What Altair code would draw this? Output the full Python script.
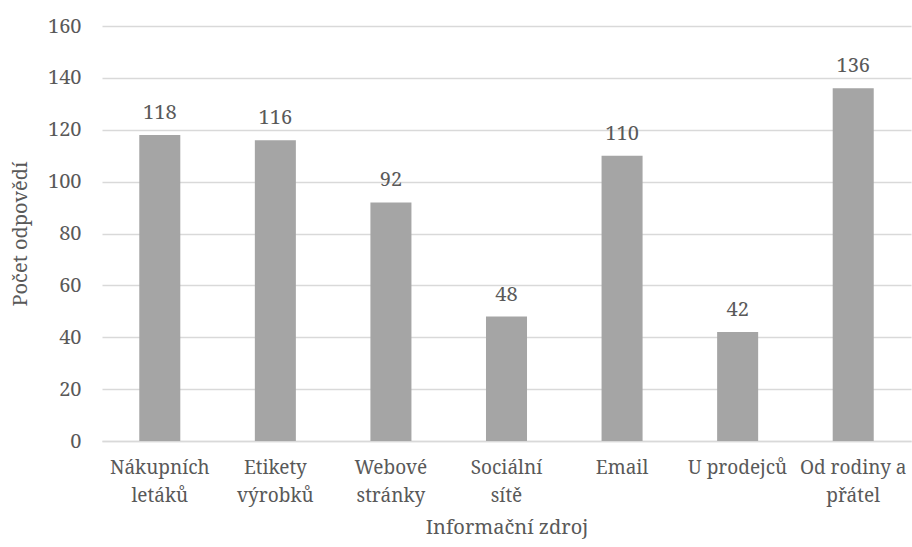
import altair as alt
import pandas as pd

# Source of information vs. number of answers
zdroje = [
    "Nákupních\nletáků",
    "Etikety\nvýrobků",
    "Webové\nstránky",
    "Sociální\nsítě",
    "Email",
    "U prodejců",
    "Od rodiny a\npřátel",
]
odpovedi = [118, 116, 92, 48, 110, 42, 136]

df = pd.DataFrame({"zdroj": zdroje, "pocet": odpovedi})

FONT = "Noto Serif"
SIZE = 20
TEXT = "#595959"

x = alt.X(
    "zdroj:N",
    sort=zdroje,
    title="Informační zdroj",
    scale=alt.Scale(paddingInner=0.645, paddingOuter=0.3225),
    axis=alt.Axis(
        labelExpr="split(datum.label, '\\n')",
        labelAngle=0,
        labelFont=FONT,
        labelFontSize=19,
        labelColor=TEXT,
        labelLineHeight=28,
        labelPadding=17,
        ticks=False,
        domainColor="#D9D9D9",
        domainWidth=1.5,
        titleFont=FONT,
        titleFontSize=SIZE,
        titleFontWeight="normal",
        titleColor=TEXT,
        titlePadding=12,
    ),
)

y = alt.Y(
    "pocet:Q",
    title="Počet odpovědí",
    scale=alt.Scale(domain=[0, 160]),
    axis=alt.Axis(
        values=list(range(0, 161, 20)),
        labelFont=FONT,
        labelFontSize=SIZE,
        labelColor=TEXT,
        labelPadding=21,
        ticks=False,
        domain=False,
        gridColor="#D9D9D9",
        gridWidth=1.5,
        titleFont=FONT,
        titleFontSize=SIZE,
        titleFontWeight="normal",
        titleColor=TEXT,
        titlePadding=17,
    ),
)

bars = alt.Chart(df).mark_bar(color="#A5A5A5").encode(x=x, y=y)

labels = alt.Chart(df).mark_text(
    font=FONT, fontSize=SIZE, color=TEXT, baseline="alphabetic", dy=-16
).encode(x=alt.X("zdroj:N", sort=zdroje), y="pocet:Q", text="pocet:Q")

chart = (
    alt.layer(bars, labels)
    .properties(
        width=809,
        height=415,
        padding={"left": 102, "top": 26, "right": 1, "bottom": 106},
        autosize=alt.AutoSizeParams(type="none"),
    )
    .configure_view(stroke=None)
)

chart.save("out.html", embed_options={"renderer": "svg", "actions": False})
